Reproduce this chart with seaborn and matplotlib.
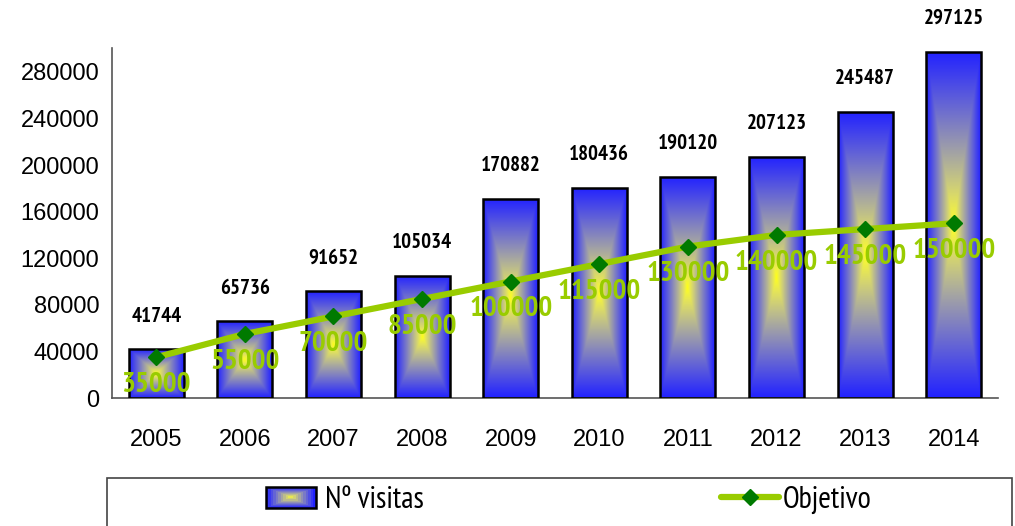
import numpy as np
import pandas as pd
import matplotlib
matplotlib.use("Agg")
import matplotlib.pyplot as plt
import seaborn as sns
from matplotlib.patches import Rectangle
from matplotlib.lines import Line2D
from matplotlib.legend_handler import HandlerBase
from matplotlib import font_manager

# data
years = ["2005", "2006", "2007", "2008", "2009", "2010", "2011", "2012", "2013", "2014"]
visitas = [41744, 65736, 91652, 105034, 170882, 180436, 190120, 207123, 245487, 297125]
objetivo = [35000, 55000, 70000, 85000, 100000, 115000, 130000, 140000, 145000, 150000]
yticks = [0, 40000, 80000, 120000, 160000, 200000, 240000, 280000]

LINE_C = "#99CC00"
MARK_C = "#007A00"

fonts = font_manager.fontManager.ttflist
installed = {f.name for f in fonts}
bold_ok = {f.name for f in fonts if isinstance(f.weight, int) and f.weight >= 700}
cands = ["Liberation Sans Narrow", "PT Sans Narrow", "Roboto Condensed", "Archivo Narrow",
         "Pragati Narrow", "Fira Sans Condensed", "IBM Plex Sans Condensed"]
narrow_bold = next((f for f in cands if f in bold_ok), "DejaVu Sans")
narrow = next((f for f in cands if f in installed), "DejaVu Sans")
regular = next((f for f in ["Arimo", "Liberation Sans"] if f in installed), "DejaVu Sans")


def blend(t):
    # box gradient: yellow centre -> blue edge
    t = np.clip(t, 0, 1)
    rg = 1 - 0.87 * t
    b = np.sqrt(t)
    return np.stack([rg, rg, b], axis=-1)


class GradHandler(HandlerBase):
    def create_artists(self, legend, orig, xd, yd, w, h, fontsize, trans):
        arts = []
        n = 10
        for i in range(n):
            f = i / n
            c = blend(np.array(1 - f))
            arts.append(Rectangle((-xd + f * w / 2, -yd + f * h / 2), w * (1 - f), h * (1 - f),
                                  facecolor=c, edgecolor="none", transform=trans))
        arts.append(Rectangle((-xd, -yd), w, h, facecolor="none", edgecolor="black",
                              lw=1.8, transform=trans))
        return arts


sns.set_theme(style="white")
plt.rcParams["font.family"] = [regular, "DejaVu Sans"]

df = pd.DataFrame({"year": years, "visitas": visitas, "objetivo": objetivo})

fig = plt.figure(figsize=(10.15, 5.26), dpi=100)
ax = fig.add_axes([0.1103, 0.2433, 0.873, 0.6645])

sns.barplot(data=df, x="year", y="visitas", ax=ax, width=0.62,
            facecolor="none", edgecolor="black", linewidth=1.8, zorder=3)

# gradient fill inside each bar
gx = np.linspace(-1, 1, 120)
gy = np.linspace(-1, 1, 400)
U, V = np.meshgrid(gx, gy)
img = blend(np.maximum(np.abs(U), np.abs(V)))
for p in ax.patches:
    x0, y0, w, h = p.get_x(), p.get_y(), p.get_width(), p.get_height()
    im = ax.imshow(img, extent=(x0, x0 + w, y0, y0 + h), aspect="auto",
                   origin="lower", zorder=2, interpolation="bilinear")
    im.set_clip_path(p)

xpos = np.arange(len(years))
ax.plot(xpos, objetivo, color=LINE_C, lw=4.5, zorder=4, solid_capstyle="butt")
ax.plot(xpos, objetivo, ls="none", marker="D", ms=8, color=MARK_C, zorder=5)

for i, v in enumerate(visitas):
    ax.annotate(f"{v}", (i, v), xytext=(0, 24), textcoords="offset points",
                ha="center", va="center", fontsize=15, fontweight="bold",
                family=narrow_bold, color="black", annotation_clip=False, zorder=6)
for i, v in enumerate(objetivo):
    ax.annotate(f"{v}", (i, v), xytext=(0, -20), textcoords="offset points",
                ha="center", va="center", fontsize=21, fontweight="bold",
                family=narrow_bold, color=LINE_C, annotation_clip=False, zorder=6)

ax.set_xlim(-0.5, len(years) - 0.5)
ax.set_ylim(0, 300000)
ax.set_yticks(yticks)
ax.set_yticklabels([str(t) for t in yticks], fontsize=17, color="black")
ax.set_xticks(xpos)
ax.set_xticklabels(years, fontsize=17, color="black")
ax.set_xticks(np.arange(-0.5, len(years)), minor=True)
ax.tick_params(axis="x", which="major", length=0, pad=22)
ax.tick_params(axis="x", which="minor", length=10, direction="inout", width=1, color="#333333")
ax.tick_params(axis="y", which="major", length=10, direction="inout", width=1, color="#333333", pad=4)
ax.set_xlabel("")
ax.set_ylabel("")
for s in ["top", "right"]:
    ax.spines[s].set_visible(False)
for s in ["left", "bottom"]:
    ax.spines[s].set_color("#555555")
    ax.spines[s].set_linewidth(1.2)

# legend frame
fig.patches.append(Rectangle((107 / 1015, -0.1), 905 / 1015, 0.1 + 48 / 526,
                             transform=fig.transFigure, facecolor="white",
                             edgecolor="#444444", lw=1.2, zorder=0))
bar_handle = Rectangle((0, 0), 1, 1)
line_handle = Line2D([], [], color=LINE_C, lw=4.5, marker="D", ms=8,
                     markerfacecolor=MARK_C, markeredgecolor=MARK_C)
fig.legend([bar_handle], ["Nº visitas"], handler_map={Rectangle: GradHandler()},
           loc="center left", bbox_to_anchor=(238 / 1015, 1 - 500 / 526),
           frameon=False, prop={"family": narrow, "size": 22},
           handlelength=1.65, handleheight=0.7, handletextpad=0.3, labelcolor="black")
fig.legend([line_handle], ["Objetivo"], loc="center left",
           bbox_to_anchor=(693 / 1015, 1 - 500 / 526), frameon=False,
           prop={"family": narrow, "size": 22}, handlelength=1.9, handletextpad=0.15,
           labelcolor="black")

fig.savefig("out.png", dpi=100)
